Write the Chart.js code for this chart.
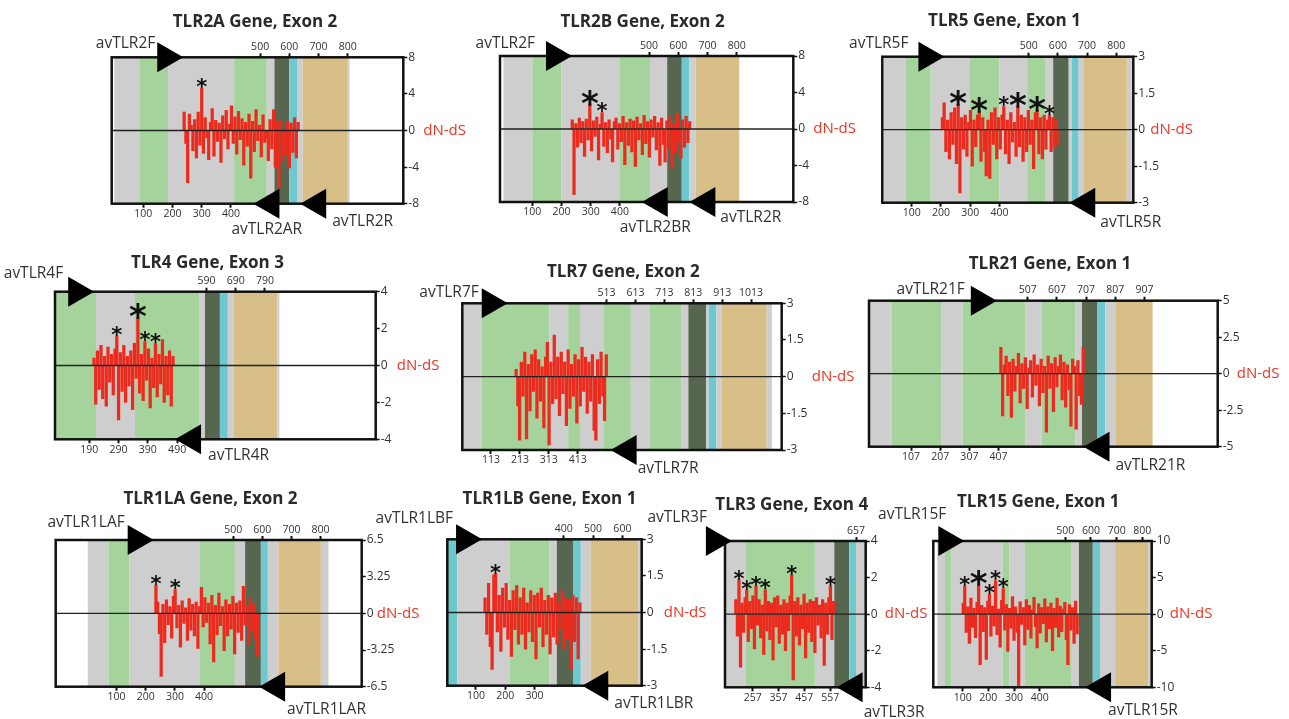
<!DOCTYPE html>
<html>
<head>
<meta charset="utf-8">
<title>TLR genes dN-dS</title>
<script src="https://cdn.jsdelivr.net/npm/chart.js@4.4.0/dist/chart.umd.min.js"></script>
<style>
  html, body { margin: 0; padding: 0; background: #fff; overflow: hidden; }
  #wrap { position: relative; width: 1289px; height: 719px; }
  #wrap canvas { position: absolute; left: 0; top: 0; pointer-events: none; }
</style>
</head>
<body>
<div id="wrap"></div>
<script>
// codons between two plotted bars
const STEP = 6;

// dN-dS per codon window (first codon, then values)
const tlr2aStart = 240;
const tlr2aValues = [2.0, -1.4, -5.7, 1.8, 0.6, -2.2, 1.2, -3.0, 2.0, -1.6,
  4.6, -2.5, 1.4, -0.8, -3.2, 0.9, 2.4, -2.8, 1.1, -1.2,
  0.8, -3.5, 1.6, -0.9, 2.2, -2.0, 0.7, 2.7, -1.4, 1.5,
  -2.6, 2.1, -1.0, 1.3, -3.8, 0.9, -1.7, 1.8, -5.2, 1.0,
  -2.3, 2.3, -1.1, 0.6, -2.9, 1.7, -1.3, -0.8, -3.3, 1.2,
  -2.0, 2.3, -4.0, 0.9, -6.3, 1.1, -3.4, -1.5, -2.7, 1.0,
  -4.1, 0.8, -2.4, 1.4, -3.0, 0.9];

const tlr2bStart = 237;
const tlr2bValues = [1.0, -7.2, 0.6, -2.0, 1.2, -1.5, 0.8, -3.0, 1.1, -1.2,
  2.7, -2.4, 0.9, -0.8, 1.3, -3.4, 0.5, 1.8, -1.9, 0.7,
  -2.6, 1.0, -1.1, -3.6, 0.8, 1.2, -2.2, 0.6, -1.4, 1.4,
  -3.9, 0.7, -1.8, 1.1, -2.5, 0.9, -4.1, 1.3, -1.2, 0.6,
  -2.8, 1.5, -1.6, 0.8, -3.1, 1.0, -0.9, 1.4, -2.3, 0.7,
  -4.0, 1.2, -1.7, -3.6, 0.9, -2.1, 1.5, -4.3, 0.6, -2.6,
  1.7, -1.3, -3.2, 1.0, -2.0, 1.4, -1.5, 0.8];

const tlr5Start = 205;
const tlr5Values = [0.5, 1.1, -0.9, 0.4, -1.2, 0.7, -0.6, 0.9, -1.4, 1.05,
  -2.6, 0.5, -0.8, 0.6, -1.1, 0.3, 0.8, -1.5, 0.4, -0.7,
  0.6, 0.75, -1.3, 0.5, -0.9, -1.9, 0.4, -2.0, 0.7, -0.6,
  0.9, -1.2, 0.5, -0.8, 0.6, 0.95, -1.0, 0.4, -1.4, 0.7,
  -0.5, 0.3, -1.1, 0.95, -0.7, 0.6, -1.3, 0.5, -0.9, 0.8,
  -0.6, 0.4, -1.6, 0.7, 0.8, -1.0, 0.5, -1.2, 0.6, -0.8,
  0.4, 0.6, -0.9, 0.5, -0.7, 0.4, -0.6];

const tlr4Start = 206;
const tlr4Values = [0.4, -2.1, 0.8, -1.3, 1.1, -1.8, 0.5, -2.2, 1.0, -0.9,
  0.6, -1.6, 0.9, 1.6, -2.95, 0.7, -1.4, 1.1, -2.0, 0.5,
  -1.1, 0.8, -2.4, 1.2, -0.7, 2.6, -1.5, 0.6, -1.9, 1.3,
  -0.8, 0.9, -2.3, 0.4, -1.2, 1.2, -1.7, 0.6, -1.0, 1.4,
  -2.0, 0.5, -1.6, 0.8, -2.2, 0.5];

const tlr7Start = 200;
const tlr7Values = [0.3, -1.2, -2.6, 0.6, -0.8, 1.0, -2.55, 0.5, -1.4, 0.9,
  -0.6, 1.1, -1.7, 0.7, -1.0, 0.4, -2.1, 0.8, 1.4, -2.8,
  0.6, -1.1, 1.7, -0.9, 0.8, -1.6, 1.0, -0.7, 0.6, -2.0,
  1.1, -1.3, 0.5, -0.8, 0.9, -1.9, 0.7, -1.2, 1.2, -0.6,
  0.8, -1.5, 0.6, -1.0, 0.9, -2.2, -2.6, 0.7, -1.1, 1.0,
  -0.8, -1.8, 0.9];

const tlr21Start = 415;
const tlr21Values = [1.8, -2.9, 0.6, 1.2, -1.5, 0.8, -3.0, 1.0, -1.2, 0.5,
  1.4, -2.0, 0.7, -1.0, 1.1, -2.4, 0.4, 0.9, -1.6, 1.3,
  -0.8, 0.6, -2.2, 1.0, -1.3, 0.5, -4.0, 1.2, -1.0, 0.7,
  -2.6, 1.1, -0.9, 0.5, 1.3, -1.8, 0.8, -2.3, 0.6, -1.1,
  -3.6, 1.0, 0.5, -3.8, 0.9, -1.5, -2.1, 1.8];

const tlr1laStart = 235;
const tlr1laValues = [2.5, 1.0, -1.8, -5.6, 0.8, -2.6, 1.2, -1.0, 0.6, -2.2,
  1.5, 2.1, -1.3, 0.7, -3.0, 1.1, -0.9, 0.5, -2.4, 1.3,
  -1.5, 0.8, -2.0, 1.0, -3.1, 0.6, 2.3, -1.2, 1.4, -0.8,
  0.9, -2.7, 1.6, -4.3, 0.7, -1.9, 1.8, -1.1, 0.6, -3.3,
  1.2, -2.0, 0.8, -1.4, 1.5, -3.6, 0.9, -1.7, 1.1, -2.4,
  2.4, -1.0, 0.7, -2.8, 1.3, -1.6, 0.8, -2.2, -3.8];

const tlr1lbStart = 131;
const tlr1lbValues = [0.6, -0.9, 1.2, -1.4, -2.33, 1.54, 1.58, -0.8, 0.7, -1.6,
  1.0, -0.6, 1.2, -1.1, 0.5, -1.8, 0.9, -0.7, 1.1, -1.3,
  0.6, -0.9, 1.0, -1.5, 0.4, -0.8, 0.9, -1.2, 0.7, -1.9,
  0.8, -0.6, 1.0, -1.4, 0.5, -0.9, 0.7, -1.7, 0.6, -1.0,
  0.8, -1.3, 0.4, -0.7, 0.9, -1.5, 0.6, -1.1, 0.5, -2.3,
  0.7, -1.2, 0.6, -1.9, 0.4];

const tlr3Start = 192;
const tlr3Values = [0.8, -1.2, 1.87, -2.9, 0.6, -1.0, 0.9, 1.32, -1.5, 0.7,
  -0.8, 1.0, -1.9, 1.54, -0.6, 0.8, -1.3, 0.5, -2.2, 1.35,
  -0.9, 0.7, -1.4, 0.6, -2.5, 0.9, -0.7, 1.0, -1.6, 0.5,
  -1.1, 0.8, -2.0, 0.6, -0.9, 1.0, 2.14, -3.6, 0.7, -1.2,
  0.9, -1.7, 0.5, -0.8, 1.1, -2.4, 0.6, -1.0, 0.8, -1.5,
  0.7, -2.1, 0.9, -0.6, 0.5, -1.3, 0.8, -2.8, 0.6, -1.1,
  0.9, 1.54, -1.4, 0.7];

const tlr15Start = 102;
const tlr15Values = [1.5, 3.85, -2.5, 1.0, -4.0, 2.2, -1.8, 0.8, -3.2, 1.6,
  4.0, -6.9, 1.2, -2.4, 0.9, -6.2, 1.8, 2.75, -3.0, 1.1,
  -1.6, 4.58, -2.8, 0.7, -4.5, 1.9, 3.5, -2.2, 1.3, -5.1,
  0.8, -1.9, 2.4, -3.6, 1.0, -2.5, -9.8, 1.7, -1.4, 0.9,
  -4.2, 2.0, -2.1, 1.2, -3.3, 0.6, 2.3, -1.7, -4.6, 1.4,
  -2.6, 0.9, -1.3, 2.1, -3.8, 1.0, -2.0, 1.5, -5.0, 0.8,
  -1.8, 2.2, -3.1, 1.1, -2.4, 0.7, 1.6, -3.5, -6.9, 1.3,
  -2.2, 0.9, -4.0, 1.8, -2.7];

// domain regions [from codon, to codon, kind]: g gray, G green, D dark, C cyan, T tan
const tlr2aBands = [[1, 89, 'g'], [89, 185, 'G'], [185, 411, 'g'], [411, 523, 'G'], [523, 549, 'g'], [549, 600, 'D'], [600, 628, 'C'], [628, 646, 'g'], [646, 800, 'T'], [800, 806, 'g']];
const tlr2bBands = [[1, 100, 'g'], [100, 199, 'G'], [199, 398, 'g'], [398, 503, 'G'], [503, 562, 'g'], [562, 612, 'D'], [612, 638, 'C'], [638, 660, 'g'], [660, 809, 'T']];
const tlr5Bands = [[5, 80, 'g'], [80, 165, 'G'], [165, 297, 'g'], [297, 400, 'G'], [400, 495, 'g'], [495, 556, 'G'], [556, 584, 'g'], [584, 637, 'D'], [637, 647, 'g'], [647, 671, 'C'], [671, 687, 'g'], [687, 836, 'T'], [836, 853, 'g']];
const tlr4Bands = [[76, 213, 'G'], [213, 346, 'g'], [346, 565, 'G'], [565, 585, 'g'], [585, 636, 'D'], [636, 663, 'C'], [663, 684, 'g'], [684, 832, 'T'], [832, 839, 'g']];
const tlr7Bands = [[14, 81, 'g'], [81, 315, 'G'], [315, 380, 'g'], [380, 421, 'G'], [421, 504, 'g'], [504, 597, 'G'], [597, 661, 'g'], [661, 773, 'G'], [773, 796, 'g'], [796, 857, 'D'], [857, 866, 'g'], [866, 892, 'C'], [892, 911, 'g'], [911, 1067, 'T'], [1067, 1085, 'g']];
const tlr21Bands = [[-37, 41, 'g'], [41, 210, 'G'], [210, 284, 'g'], [284, 498, 'G'], [498, 555, 'g'], [555, 670, 'G'], [670, 693, 'g'], [693, 746, 'D'], [746, 773, 'C'], [773, 807, 'g'], [807, 935, 'T']];
const tlr1laBands = [[1, 72, 'g'], [72, 144, 'G'], [144, 386, 'g'], [386, 506, 'G'], [506, 541, 'g'], [541, 595, 'D'], [595, 619, 'C'], [619, 655, 'g'], [655, 801, 'T'], [801, 827, 'g']];
const tlr1lbBands = [[2, 36, 'C'], [36, 214, 'g'], [214, 351, 'G'], [351, 376, 'g'], [376, 433, 'D'], [433, 458, 'C'], [458, 492, 'g'], [492, 655, 'T'], [655, 666, 'g']];
const tlr3Bands = [[152, 231, 'g'], [231, 498, 'G'], [498, 573, 'g'], [573, 631, 'D'], [631, 657, 'C'], [657, 695, 'g']];
const tlr15Bands = [[1, 31, 'g'], [31, 54, 'G'], [54, 256, 'g'], [256, 282, 'G'], [282, 343, 'g'], [343, 525, 'G'], [525, 553, 'g'], [553, 607, 'D'], [607, 635, 'C'], [635, 694, 'g'], [694, 823, 'T'], [823, 837, 'g']];

// tick labels
const ticks100 = [100, 200, 300, 400];
const ticks500 = [500, 600, 700, 800];
const tlr4Bottom = [190, 290, 390, 490];
const tlr4Top = [590, 690, 790];
const tlr7Bottom = [113, 213, 313, 413];
const tlr7Top = [513, 613, 713, 813, 913, 1013];
const tlr21Bottom = [107, 207, 307, 407];
const tlr21Top = [507, 607, 707, 807, 907];
const tlr1lbBottom = [100, 200, 300];
const tlr1lbTop = [400, 500, 600];
const tlr3Bottom = [257, 357, 457, 557];
const tlr3Top = [657];
const yTicks8 = [-8, -4, 0, 4, 8];
const yTicks3 = [-3, -1.5, 0, 1.5, 3];
const yTicks4 = [-4, -2, 0, 2, 4];
const yTicks5 = [-5, -2.5, 0, 2.5, 5];
const yTicks65 = [-6.5, -3.25, 0, 3.25, 6.5];
const yTicks10 = [-10, -5, 0, 5, 10];

// primers: forward start codon, reverse end codon
const tlr2aPrimers = { fwd: ['avTLR2F', 148], rev: [['avTLR2AR', 477], ['avTLR2R', 637]] };
const tlr2bPrimers = { fwd: ['avTLR2F', 147], rev: [['avTLR2BR', 475], ['avTLR2R', 638]] };
const tlr5Primers = { fwd: ['avTLR5F', 123], rev: [['avTLR5R', 639]] };
const tlr4Primers = { fwd: ['avTLR4F', 118], rev: [['avTLR4R', 483]] };
const tlr7Primers = { fwd: ['avTLR7F', 81], rev: [['avTLR7R', 527]] };
const tlr21Primers = { fwd: ['avTLR21F', 312], rev: [['avTLR21R', 698]] };
const tlr1laPrimers = { fwd: ['avTLR1LAF', 138], rev: [['avTLR1LAR', 589]] };
const tlr1lbPrimers = { fwd: ['avTLR1LBF', 32], rev: [['avTLR1LBR', 463]] };
const tlr3Primers = { fwd: ['avTLR3F', 76], rev: [['avTLR3R', 582]] };
const tlr15Primers = { fwd: ['avTLR15F', 5], rev: [['avTLR15R', 577]] };

// codons with significant dN-dS [codon, big asterisk]
const tlr2aStars = [[300, 0]];
const tlr2bStars = [[297, 1], [339, 0]];
const tlr5Stars = [[259, 1], [331, 1], [415, 0], [463, 1], [529, 1], [571, 0]];
const tlr4Stars = [[284, 0], [356, 1], [380, 0], [416, 0]];
const tlr1laStars = [[235, 0], [301, 0]];
const tlr1lbStars = [[167, 0]];
const tlr3Stars = [[204, 0], [234, 0], [270, 0], [306, 0], [408, 0], [558, 0]];
const tlr15Stars = [[108, 0], [162, 1], [204, 0], [228, 0], [258, 0]];

const panels = [
  { title: 'TLR2A Gene, Exon 2', start: tlr2aStart, values: tlr2aValues, bands: tlr2aBands, bottom: ticks100, top: ticks500, yTicks: yTicks8, primers: tlr2aPrimers, stars: tlr2aStars },
  { title: 'TLR2B Gene, Exon 2', start: tlr2bStart, values: tlr2bValues, bands: tlr2bBands, bottom: ticks100, top: ticks500, yTicks: yTicks8, primers: tlr2bPrimers, stars: tlr2bStars },
  { title: 'TLR5 Gene, Exon 1', start: tlr5Start, values: tlr5Values, bands: tlr5Bands, bottom: ticks100, top: ticks500, yTicks: yTicks3, primers: tlr5Primers, stars: tlr5Stars },
  { title: 'TLR4 Gene, Exon 3', start: tlr4Start, values: tlr4Values, bands: tlr4Bands, bottom: tlr4Bottom, top: tlr4Top, yTicks: yTicks4, primers: tlr4Primers, stars: tlr4Stars },
  { title: 'TLR7 Gene, Exon 2', start: tlr7Start, values: tlr7Values, bands: tlr7Bands, bottom: tlr7Bottom, top: tlr7Top, yTicks: yTicks3, primers: tlr7Primers, stars: [] },
  { title: 'TLR21 Gene, Exon 1', start: tlr21Start, values: tlr21Values, bands: tlr21Bands, bottom: tlr21Bottom, top: tlr21Top, yTicks: yTicks5, primers: tlr21Primers, stars: [] },
  { title: 'TLR1LA Gene, Exon 2', start: tlr1laStart, values: tlr1laValues, bands: tlr1laBands, bottom: ticks100, top: ticks500, yTicks: yTicks65, primers: tlr1laPrimers, stars: tlr1laStars },
  { title: 'TLR1LB Gene, Exon 1', start: tlr1lbStart, values: tlr1lbValues, bands: tlr1lbBands, bottom: tlr1lbBottom, top: tlr1lbTop, yTicks: yTicks3, primers: tlr1lbPrimers, stars: tlr1lbStars },
  { title: 'TLR3 Gene, Exon 4', start: tlr3Start, values: tlr3Values, bands: tlr3Bands, bottom: tlr3Bottom, top: tlr3Top, yTicks: yTicks4, primers: tlr3Primers, stars: tlr3Stars },
  { title: 'TLR15 Gene, Exon 1', start: tlr15Start, values: tlr15Values, bands: tlr15Bands, bottom: ticks100, top: ticks500, yTicks: yTicks10, primers: tlr15Primers, stars: tlr15Stars }
];

// page layout: plot box [l, t, r, b], codon range, title centre, label offsets
const layouts = [
  { box: [111.7, 57.3, 403.3, 203.7], xr: [-8, 990], title: [255, 22], fwdLab: [-2, -14], revLab: [[-22, 26], [32, 18]], dnds: 20 },
  { box: [500, 56, 793.3, 202], xr: [-10.6, 994], title: [642.5, 22], fwdLab: [-11, -12], revLab: [[-22, 26], [31, 16]], dnds: 20 },
  { box: [882.3, 56.7, 1133.3, 202.7], xr: [-0.6, 858], title: [1004.5, 21], fwdLab: [-10, -13], revLab: [[31, 20]], dnds: 17 },
  { box: [55, 291.7, 375.7, 439.3], xr: [73, 1168], title: [207.5, 263], fwdLab: [-5, -18], revLab: [[33, 16]], dnds: 21 },
  { box: [462.3, 303.3, 781.7, 450], xr: [13.7, 1119], title: [623.3, 272], fwdLab: [-3, -11], revLab: [[27, 19]], dnds: 30 },
  { box: [869, 300.7, 1217.7, 446.7], xr: [-37, 1158], title: [1050, 264], fwdLab: [-6, -11], revLab: [[32, 19]], dnds: 19 },
  { box: [55.7, 540, 361.7, 686.7], xr: [-109, 941], title: [210.5, 499], fwdLab: [-3, -17], revLab: [[28, 23]], dnds: 15 },
  { box: [447.3, 539.3, 641.7, 685.7], xr: [2, 666], title: [549.5, 499], fwdLab: [-3, -21], revLab: [[32, 18]], dnds: 22 },
  { box: [725, 541, 865.7, 687.3], xr: [150, 694.5], title: [791.7, 505], fwdLab: [1, -23], revLab: [[27, 25]], dnds: 19 },
  { box: [933.3, 541, 1151.7, 687.3], xr: [-14.6, 836.6], title: [1038.3, 502], fwdLab: [8, -26], revLab: [[23, 23]], dnds: 18 }
];

const bandColors = { g: '#cecece', G: '#a4d49b', D: '#57674f', C: '#6ec9cf', T: '#d7bf87' };
const W = 1289, H = 719;
const AXIS_H = 18, AXIS_W = 40;
const FONT = '"Open Sans", "DejaVu Sans", sans-serif';

Chart.defaults.font.family = FONT;

function makeDecor(p, lay) {
  return {
    id: 'decor',
    beforeDatasetsDraw(chart) {
      const { ctx, chartArea: a, scales: { x } } = chart;
      ctx.save();
      ctx.beginPath();
      ctx.rect(a.left, a.top, a.right - a.left, a.bottom - a.top);
      ctx.clip();
      p.bands.forEach(([from, to, kind]) => {
        const x0 = x.getPixelForValue(from);
        const x1 = x.getPixelForValue(to);
        ctx.fillStyle = bandColors[kind];
        ctx.fillRect(x0, a.top, x1 - x0, a.bottom - a.top);
      });
      ctx.restore();
    },
    afterDatasetsDraw(chart) {
      const { ctx, chartArea: a, scales: { y } } = chart;
      const y0 = y.getPixelForValue(0);
      ctx.save();
      ctx.strokeStyle = '#222';
      ctx.lineWidth = 1.3;
      ctx.beginPath();
      ctx.moveTo(a.left, y0);
      ctx.lineTo(a.right, y0);
      ctx.stroke();
      ctx.restore();
    },
    afterDraw(chart) {
      const { ctx, chartArea: a, scales: { x, y } } = chart;
      ctx.save();
      // frame
      ctx.strokeStyle = '#111';
      ctx.lineWidth = 2.5;
      ctx.strokeRect(a.left, a.top, a.right - a.left, a.bottom - a.top);

      // asterisks over the selected codons
      ctx.fillStyle = '#111';
      ctx.textAlign = 'center';
      ctx.textBaseline = 'alphabetic';
      p.stars.forEach(([codon, big]) => {
        const i = Math.round((codon - p.start) / STEP);
        const cx = x.getPixelForValue(p.start + i * STEP);
        const top = y.getPixelForValue(Math.max(p.values[i], 0));
        const size = big ? 34 : 21;
        const cy = top - (big ? 10 : 7);
        ctx.font = 'bold ' + size + 'px "DejaVu Sans", sans-serif';
        ctx.fillText('*', cx, cy + 0.6 * size);
      });

      // primer arrows
      ctx.fillStyle = '#000';
      const fx = x.getPixelForValue(p.primers.fwd[1]);
      ctx.beginPath();
      ctx.moveTo(fx, a.top - 15);
      ctx.lineTo(fx + 26, a.top);
      ctx.lineTo(fx, a.top + 15);
      ctx.closePath();
      ctx.fill();
      p.primers.rev.forEach(([, codon]) => {
        const rx = x.getPixelForValue(codon);
        ctx.beginPath();
        ctx.moveTo(rx, a.bottom);
        ctx.lineTo(rx + 26, a.bottom - 15);
        ctx.lineTo(rx + 26, a.bottom + 15);
        ctx.closePath();
        ctx.fill();
      });

      ctx.font = '15.5px ' + FONT;
      ctx.fillStyle = '#333';
      ctx.textBaseline = 'middle';
      ctx.textAlign = 'right';
      ctx.fillText(p.primers.fwd[0], fx + lay.fwdLab[0], a.top + lay.fwdLab[1]);
      ctx.textAlign = 'left';
      p.primers.rev.forEach(([name, codon], k) => {
        const rx = x.getPixelForValue(codon);
        ctx.fillText(name, rx + lay.revLab[k][0], a.bottom + lay.revLab[k][1]);
      });

      // axis name
      ctx.fillStyle = '#ee3524';
      ctx.font = '15px ' + FONT;
      ctx.fillText('dN-dS', a.right + lay.dnds, y.getPixelForValue(0));

      // title
      ctx.fillStyle = '#2a2a2a';
      ctx.font = 'bold 17px ' + FONT;
      ctx.textAlign = 'center';
      ctx.fillText(p.title, lay.title[0], lay.title[1]);
      ctx.restore();
    }
  };
}

function xAxis(position, min, max, list) {
  return {
    type: 'linear',
    axis: 'x',
    position: position,
    min: min,
    max: max,
    offset: false,
    afterFit: s => { s.height = AXIS_H; },
    afterBuildTicks: s => { s.ticks = list.map(v => ({ value: v })); },
    ticks: { autoSkip: false, maxRotation: 0, padding: 0, color: '#333', font: { size: 10.5 }, callback: v => String(v) },
    grid: { offset: false, drawOnChartArea: false, drawTicks: true, tickLength: 4, tickWidth: 2, tickColor: '#111' },
    border: { display: false }
  };
}

const wrap = document.getElementById('wrap');

panels.forEach((p, n) => {
  const lay = layouts[n];
  const [l, t, r, b] = lay.box;
  const canvas = document.createElement('canvas');
  canvas.width = W;
  canvas.height = H;
  wrap.appendChild(canvas);

  new Chart(canvas, {
    type: 'bar',
    data: {
      datasets: [{
        data: p.values.map((v, i) => ({ x: p.start + i * STEP, y: v })),
        backgroundColor: '#ec2b1e',
        borderWidth: 0,
        barThickness: 2.6,
        grouped: false
      }]
    },
    options: {
      responsive: false,
      animation: false,
      events: [],
      layout: { padding: { left: l, top: t - AXIS_H, right: W - r - AXIS_W, bottom: H - b - AXIS_H } },
      plugins: { legend: { display: false }, tooltip: { enabled: false } },
      scales: {
        x: xAxis('bottom', lay.xr[0], lay.xr[1], p.bottom),
        xTop: xAxis('top', lay.xr[0], lay.xr[1], p.top),
        y: {
          position: 'right',
          min: p.yTicks[0],
          max: p.yTicks[p.yTicks.length - 1],
          afterFit: s => { s.width = AXIS_W; },
          afterBuildTicks: s => { s.ticks = p.yTicks.map(v => ({ value: v })); },
          ticks: { padding: 1, color: '#333', font: { size: 12 }, callback: v => String(v) },
          grid: { drawOnChartArea: false, drawTicks: true, tickLength: 4, tickWidth: 1.5, tickColor: '#111' },
          border: { display: false }
        }
      }
    },
    plugins: [makeDecor(p, lay)]
  });
});
</script>
</body>
</html>
